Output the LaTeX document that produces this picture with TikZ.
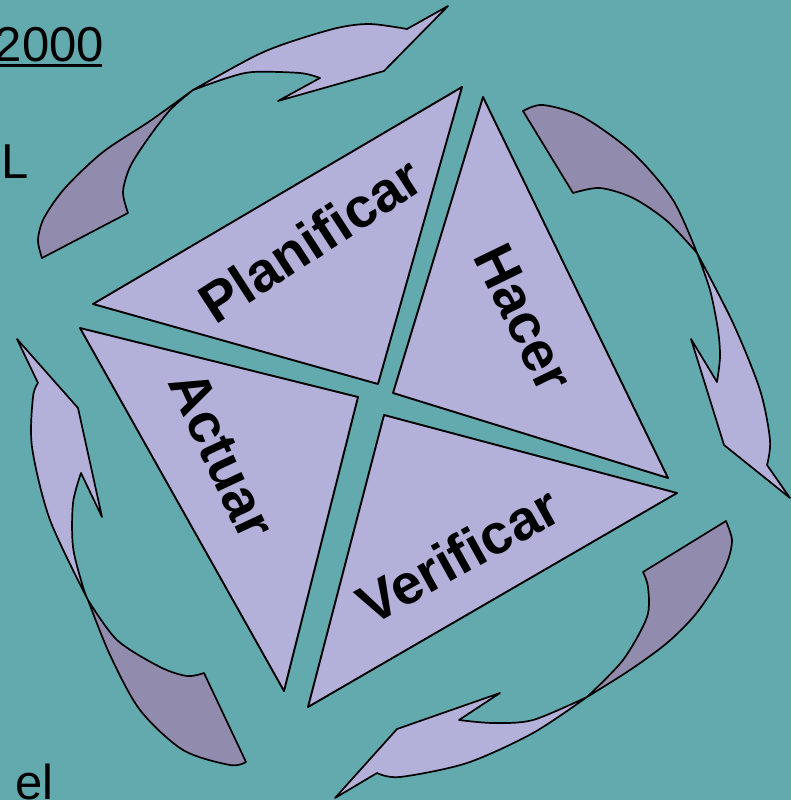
\documentclass[tikz,border=0pt]{standalone}
\usepackage{fontspec}
\setmainfont{Liberation Sans}
\usetikzlibrary{positioning}
\definecolor{tealbg}{RGB}{99,170,174}
\definecolor{lila}{RGB}{179,176,218}
\definecolor{lilaback}{RGB}{145,140,174}

\begin{document}
\begin{tikzpicture}[x=1pt,y=-1pt,line join=round, every node/.style={font=\fontsize{49}{49}\selectfont,inner sep=0pt}]
\tikzstyle{tri}=[draw,line width=1.9pt,fill=lila]
\tikzstyle{front}=[draw,line width=1.7pt,fill=lila]
\tikzstyle{back}=[draw,line width=1.7pt,fill=lilaback]
\tikzstyle{lbl}=[font=\fontsize{56}{56}\selectfont\bfseries]
\fill[tealbg] (0,0) rectangle (791,800);
\useasboundingbox (0,0) rectangle (791,800);

\node[anchor=base east] (year) at (104,62) {2000};
\draw[line width=3pt] ([yshift=-4pt]year.base west) -- ([yshift=-4pt,xshift=-2pt]year.base east);
\node[anchor=base west] (ele) at (1,178) {L};
\node[anchor=base west] (el) at (15,799) {el};

\coordinate (tlx) at (193,90);
\coordinate (rx) at (697,253);
\coordinate (bx) at (587,697);
\coordinate (lx) at (88,600);

\filldraw[back] plot[smooth] coordinates {(tlx) (150,121) (103,152) (65,188) (44,218) (38,240) (42,258)}
  -- plot[smooth] coordinates {(128,213) (123,192) (130,167) (147,140) (170,110) (tlx)} -- cycle;
\filldraw[front] plot[smooth] coordinates {(tlx) (253,57) (287,43) (337,28) (370,24) (407,29)}
  -- (448,6) -- (384,71) -- (278,101) -- (320,78)
  -- plot[smooth] coordinates {(320,78) (300,73) (253,72) (227,78) (tlx)} -- cycle;

\filldraw[back] plot[smooth] coordinates {(523,111) (543,105) (583,117) (633,153) (673,200) (rx)}
  -- plot[smooth] coordinates {(rx) (667,221) (633,198) (600,188) (573,193)} -- cycle;
\filldraw[front] plot[smooth] coordinates {(rx) (733,323) (760,390) (770,440) (767,465)}
  -- (790,498) -- (724,445) -- (691,339) -- (717,382)
  -- plot[smooth] coordinates {(717,382) (720,357) (718,330) (710,290) (rx)} -- cycle;

\filldraw[back] plot[smooth] coordinates {(726,521) (732,540) (728,560) (717,583) (695,615) (667,643) (630,670) (bx)}
  -- plot[smooth] coordinates {(bx) (623,660) (647,617) (648,587) (643,572)} -- cycle;
\filldraw[front] plot[smooth] coordinates {(bx) (533,733) (467,763) (400,777) (377,773)}
  -- (335,798) -- (397,729) -- (500,693) -- (459,720)
  -- plot[smooth] coordinates {(459,720) (493,723) (533,720) (bx)} -- cycle;

\filldraw[back] plot[smooth] coordinates {(lx) (110,655) (140,710) (183,750) (230,765) (246,762)}
  -- plot[smooth] coordinates {(204,673) (187,676) (160,667) (117,640) (lx)} -- cycle;
\filldraw[front] plot[smooth] coordinates {(lx) (50,520) (32,447) (33,397) (38,383)}
  -- (17,339) -- (78,408) -- (102,517) -- (81,473)
  -- plot[smooth] coordinates {(81,473) (73,503) (73,547) (83,587) (lx)} -- cycle;

\filldraw[tri] (93,304) -- (462,87) -- (378,384) -- cycle;
\filldraw[tri] (483,97) -- (668,478) -- (393,393) -- cycle;
\filldraw[tri] (677,493) -- (308,707) -- (384,415) -- cycle;
\filldraw[tri] (80,328) -- (358,397) -- (284,691) -- cycle;

\node[lbl,rotate=33] (plan) at (310,240) {Planificar};
\node[lbl,rotate=-64] (hacer) at (524,318) {Hacer};
\node[lbl,rotate=29] (verif) at (458,555) {Verificar};
\node[lbl,rotate=-65] (actuar) at (222,455) {Actuar};
\end{tikzpicture}
\end{document}
